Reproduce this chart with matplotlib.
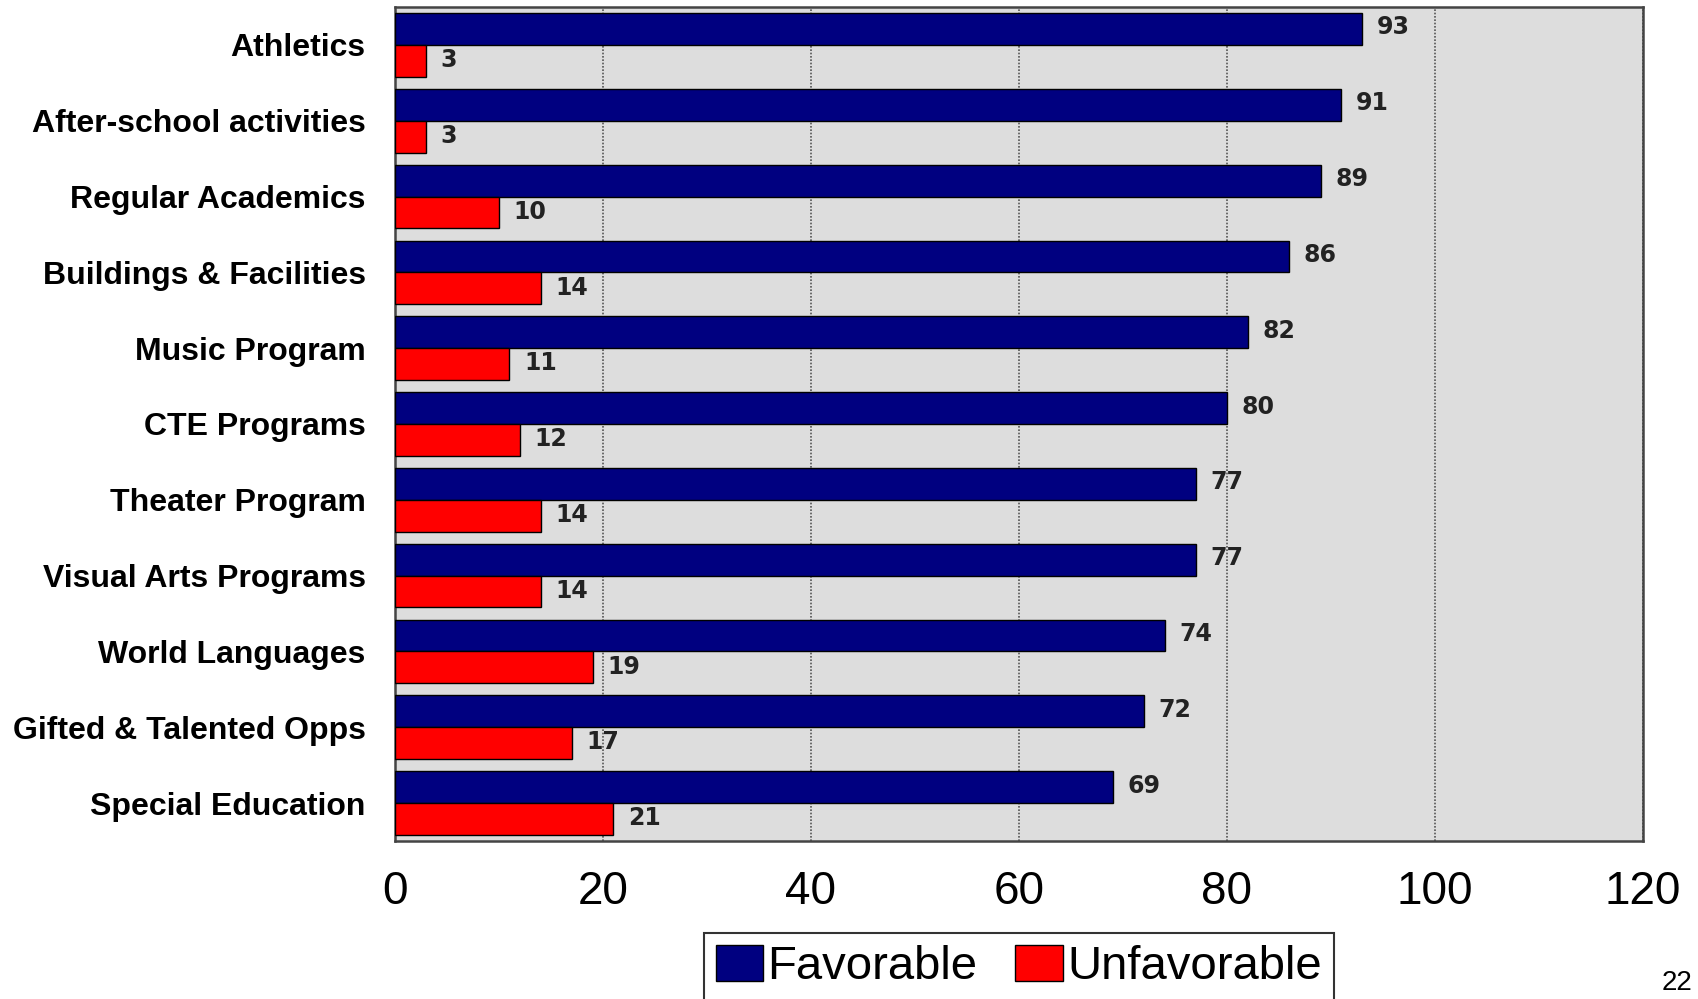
import numpy as np
import matplotlib.pyplot as plt
from matplotlib.patches import Patch

# Data survei: persentase favorable vs unfavorable per program
programs = ['Athletics', 'After-school activities', 'Regular Academics',
            'Buildings & Facilities', 'Music Program', 'CTE Programs',
            'Theater Program', 'Visual Arts Programs', 'World Languages',
            'Gifted & Talented Opps', 'Special Education']
favorable = [93, 91, 89, 86, 82, 80, 77, 77, 74, 72, 69]
unfavorable = [3, 3, 10, 14, 11, 12, 14, 14, 19, 17, 21]
xticks = [0, 20, 40, 60, 80, 100, 120]

navy = '#000080'
red = '#FF0000'
h = 0.42

plt.rcParams['font.family'] = ['Liberation Sans', 'DejaVu Sans']

fig = plt.figure(figsize=(16.98, 9.99), dpi=100)
ax = fig.add_axes([0.2326, 0.1582, 0.7350, 0.8348])
ax.set_facecolor('#DDDDDD')

y = np.arange(len(programs))
ax.barh(y - h / 2, favorable, height=h, color=navy, edgecolor='black', linewidth=1, zorder=3)
ax.barh(y + h / 2, unfavorable, height=h, color=red, edgecolor='black', linewidth=1, zorder=3)

# Label nilai di ujung batang
for i in range(len(programs)):
    ax.text(favorable[i] + 1.4, y[i] - h / 2 - 0.02, str(favorable[i]), fontsize=17,
            fontweight='bold', color='#222222', va='center', ha='left',
            family='DejaVu Sans', zorder=4)
    ax.text(unfavorable[i] + 1.4, y[i] + h / 2 - 0.01, str(unfavorable[i]), fontsize=17,
            fontweight='bold', color='#222222', va='center', ha='left',
            family='DejaVu Sans', zorder=4)

ax.set_xlim(0, 120)
ax.set_ylim(len(programs) - 0.5, -0.5)
ax.set_xticks(xticks)
ax.set_xticklabels([str(t) for t in xticks], fontsize=33)
ax.set_yticks(y)
ax.set_yticklabels(programs, fontsize=23, fontweight='bold')
ax.tick_params(axis='x', length=0, pad=21)
ax.tick_params(axis='y', length=0, pad=21)

ax.grid(axis='x', color='#555555', linestyle=(0, (1, 1)), linewidth=1.2, zorder=1)
for s in ax.spines.values():
    s.set_color('#444444')
    s.set_linewidth(1.8)

handles = [Patch(facecolor=navy, edgecolor='black'), Patch(facecolor=red, edgecolor='black')]
leg = fig.legend(handles, ['Favorable', 'Unfavorable'], loc='upper center',
                 bbox_to_anchor=(0.600, 0.066), ncol=2, fontsize=34, frameon=True,
                 fancybox=False, edgecolor='black', handlelength=1.0, handleheight=0.8,
                 handletextpad=0.1, columnspacing=0.8, borderpad=0.25, borderaxespad=0)
leg.get_frame().set_linewidth(1.5)

fig.text(0.9965, 0.016, '22', fontsize=20, ha='right', va='center')

fig.savefig('out.png', dpi=100)
